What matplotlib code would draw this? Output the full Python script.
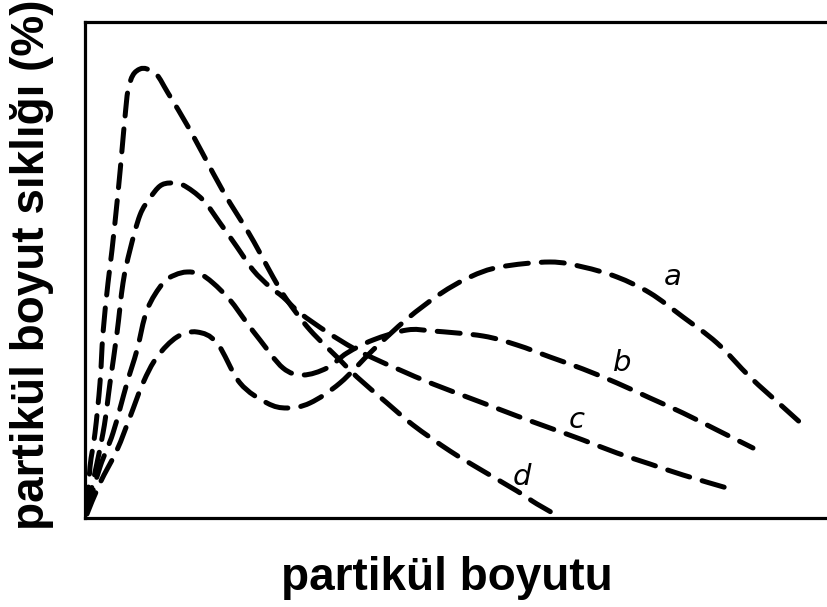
import numpy as np
import matplotlib.pyplot as plt
from matplotlib.path import Path
from matplotlib.patches import PathPatch

# particle size (arbitrary units) and frequency for the four distributions
size_a = [2, 15, 32, 45, 58, 72, 92, 112, 132, 155, 182, 202, 225, 255, 288, 322, 355, 385, 415, 465, 498, 532, 565, 598, 632, 665, 698, 718]
freq_a = [4, 35, 68, 101, 135, 161, 181, 186, 175, 135, 115, 110, 115, 135, 168, 199, 224, 241, 251, 256, 251, 241, 225, 201, 175, 141, 111, 93]

size_b = [2, 15, 28, 42, 52, 62, 78, 90, 102, 115, 128, 145, 162, 175, 198, 218, 242, 262, 288, 322, 348, 398, 432, 465, 498, 532, 565, 598, 632, 668]
freq_b = [6, 51, 85, 135, 168, 208, 235, 243, 246, 244, 235, 218, 195, 178, 150, 143, 150, 165, 178, 188, 187, 182, 173, 161, 149, 135, 120, 105, 88, 70]

size_c = [2, 18, 25, 32, 38, 45, 55, 65, 75, 85, 98, 118, 135, 152, 168, 185, 198, 215, 242, 268, 288, 315, 348, 398, 432, 465, 498, 532, 565, 598, 642]
freq_c = [8, 85, 135, 185, 235, 268, 303, 320, 332, 335, 333, 318, 295, 271, 248, 231, 221, 205, 186, 170, 160, 148, 134, 115, 102, 90, 78, 65, 54, 43, 30]

size_d = [2, 5, 10, 15, 18, 23, 27, 33, 37, 40, 43, 48, 55, 62, 72, 83, 105, 128, 145, 162, 175, 188, 202, 225, 255, 272, 302, 328, 365, 398, 432, 452, 475]
freq_d = [8, 51, 85, 135, 185, 235, 268, 325, 368, 401, 428, 443, 449, 449, 443, 425, 388, 345, 315, 288, 265, 241, 218, 188, 158, 141, 115, 93, 67, 47, 27, 14, 1]

curve_names = ['a', 'b', 'c', 'd']
label_pos = [(588, 241), (537, 155), (492, 98), (437, 41)]


def smooth_path(xs, ys):
    # Catmull-Rom through the points, written as cubic bezier segments
    p = np.column_stack([xs, ys]).astype(float)
    verts = [p[0]]
    codes = [Path.MOVETO]
    n = len(p)
    for i in range(n - 1):
        p0 = p[i - 1] if i > 0 else p[i]
        p1, p2 = p[i], p[i + 1]
        p3 = p[i + 2] if i + 2 < n else p[i + 1]
        c1 = p1 + (p2 - p0) / 6
        c2 = p2 - (p3 - p1) / 6
        verts += [c1, c2, p2]
        codes += [Path.CURVE4] * 3
    return Path(verts, codes)


fig = plt.figure(figsize=(8.28, 6.07), dpi=100)
ax = fig.add_axes([85 / 828, 1 - 518 / 607, 743 / 828, 496 / 607])

for xs, ys in [(size_a, freq_a), (size_b, freq_b), (size_c, freq_c), (size_d, freq_d)]:
    patch = PathPatch(smooth_path(xs, ys), facecolor='none', edgecolor='black',
                      linewidth=3.6, linestyle=(0, (4.6, 2.6)), capstyle='round',
                      joinstyle='round')
    ax.add_patch(patch)

for name, (tx, ty) in zip(curve_names, label_pos):
    ax.text(tx, ty, name, fontsize=21, style='italic', ha='center', va='center',
            family='DejaVu Sans')

ax.set_xlim(0, 743)
ax.set_ylim(0, 496)
ax.set_xticks([])
ax.set_yticks([])
for s in ['left', 'bottom', 'top']:
    ax.spines[s].set_linewidth(2.3)
ax.spines['right'].set_visible(False)

fig.text(447 / 828, 1 - 578 / 607, 'partikül boyutu', fontsize=33, fontweight='bold',
         family='Liberation Sans', ha='center', va='center')
fig.text(32 / 828, 1 - 265 / 607, 'partikül boyut sıklığı (%)', fontsize=33, fontweight='bold',
         family='Liberation Sans', rotation=90, ha='center', va='center')

fig.savefig('out.png', dpi=100)
